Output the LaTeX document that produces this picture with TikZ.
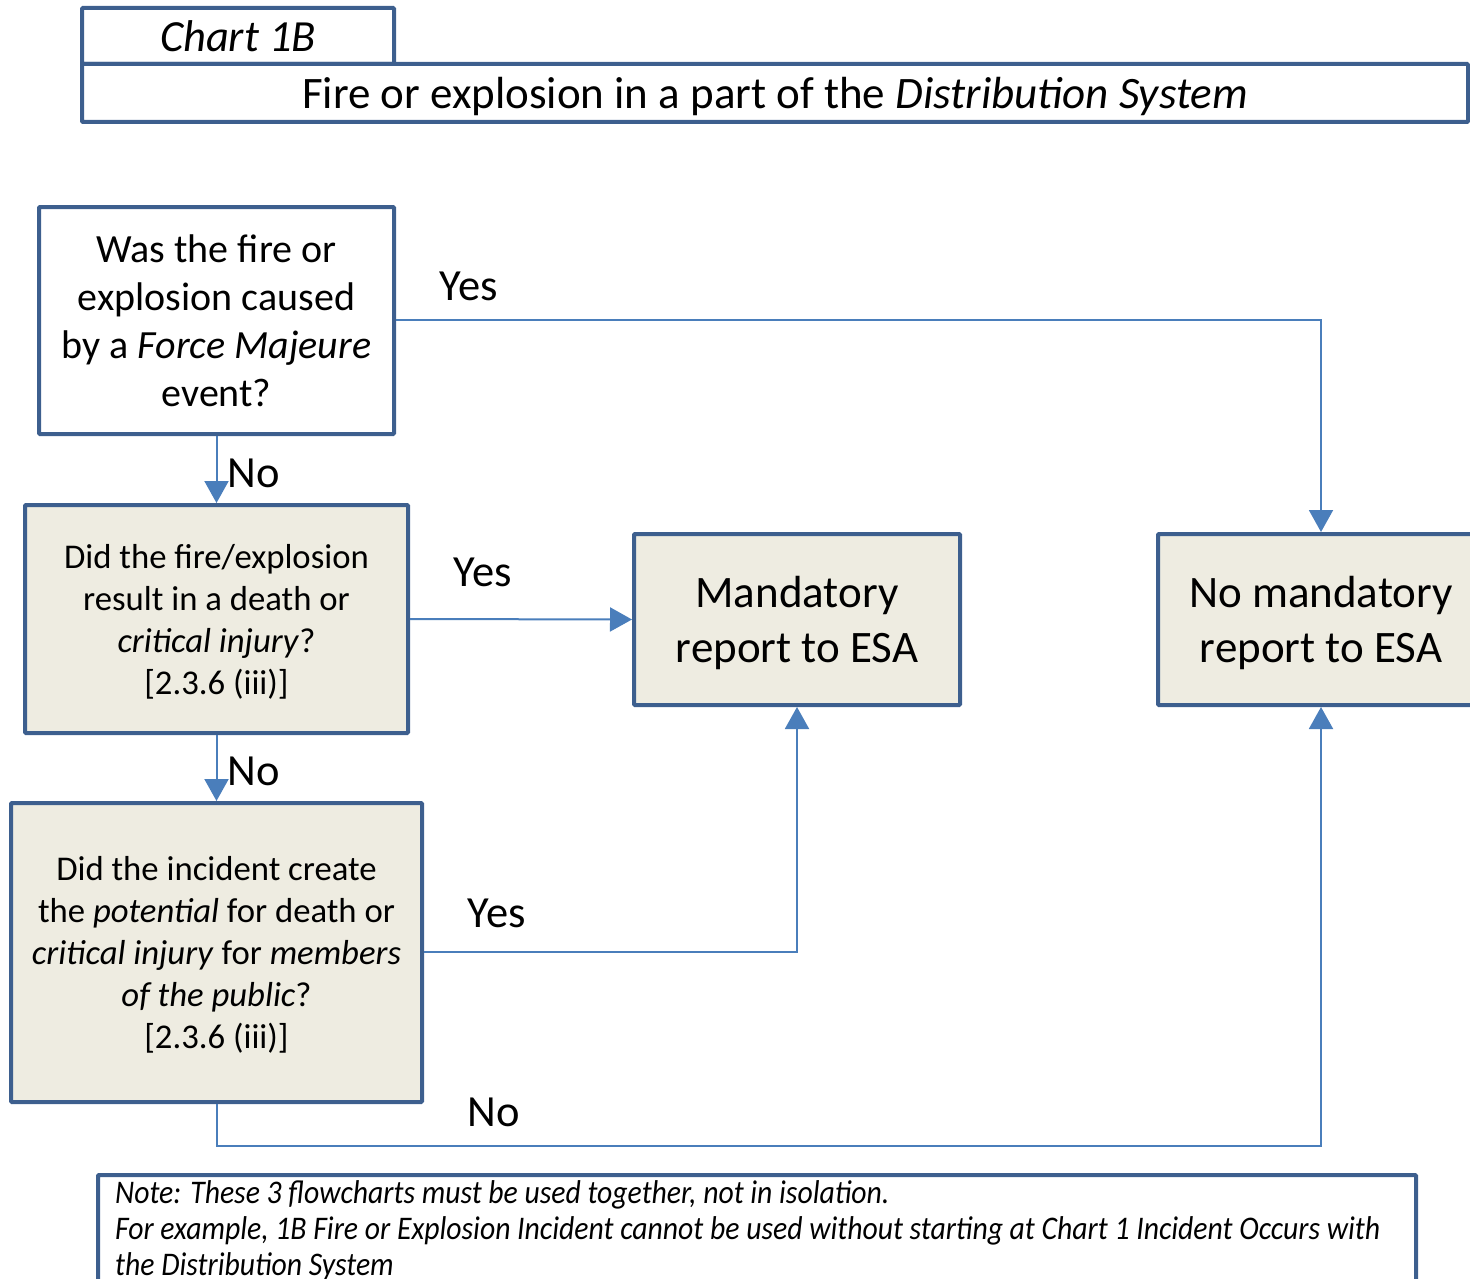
\documentclass[tikz,border=0pt]{standalone}
\usepackage{fontspec}
\setmainfont{Carlito}
\newfontfamily\notefont[FakeStretch=0.9]{Carlito}
\usetikzlibrary{arrows.meta}
\definecolor{bord}{HTML}{3D5F8E}
\definecolor{arr}{HTML}{4A7EBB}
\definecolor{boxfill}{HTML}{EEECE1}
\tikzset{
  hbox/.style={draw=bord, line width=4pt, rounded corners=1pt, inner sep=0pt},
  qbox/.style={hbox, align=center, font={\fontsize{34.7}{42}\selectfont}},
  rbox/.style={hbox, fill=boxfill, align=center, text depth=0pt, font={\fontsize{45}{55}\selectfont}},
  conn/.style={draw=arr, line width=2pt, -{Triangle[length=22pt,width=24pt]}},
  lab/.style={font={\fontsize{44.5}{50}\selectfont}, inner sep=0pt},
}
\begin{document}
\begin{tikzpicture}[x=1pt,y=-1pt]
\useasboundingbox (0,0) rectangle (1470,1279);
\clip (0,0) rectangle (1470,1279);
% header
\node[hbox, minimum width=312pt, minimum height=56pt, font={\fontsize{44.5}{50}\selectfont\itshape}] (chart) at (238,36) {Chart 1B};
\node[hbox, minimum width=1386pt, minimum height=58pt, text depth=0pt, font={\fontsize{45}{50}\selectfont}] (title) at (775,93) {Fire or explosion in a part of the \textit{Distribution System}};
% question boxes
\node[qbox, font={\fontsize{40}{48}\selectfont}, minimum width=355pt, minimum height=227pt] (q1) at (216.5,320.5) {Was the fire or\\explosion caused\\by a \textit{Force Majeure}\\event?};
\node[qbox, fill=boxfill, text depth=0pt, minimum width=383pt, minimum height=228pt] (q2) at (216.5,619) {Did the fire/explosion\\result in a death or\\\textit{critical injury}?\\{[2.3.6 (iii)]}};
\node[qbox, fill=boxfill, text depth=0pt, minimum width=411pt, minimum height=299pt] (q3) at (216.5,952.5) {Did the incident create\\the \textit{potential} for death or\\\textit{critical injury} for \textit{members}\\\textit{of the public}?\\{[2.3.6 (iii)]}};
% result boxes
\node[rbox, minimum width=326pt, minimum height=171pt] (mand) at (797,619.5) {Mandatory\\report to ESA};
\node[rbox, minimum width=326pt, minimum height=171pt] (nomand) at (1321,619.5) {No mandatory\\report to ESA};
% note
\node[hbox, anchor=north west, minimum width=1318pt, minimum height=140pt] (note) at (96,1173) {};
\node[anchor=north west, inner sep=0pt, align=left, font={\fontsize{33}{36}\selectfont\notefont\itshape}] (notetext) at (115,1180) {Note: These 3 flowcharts must be used together, not in isolation.\\For example, 1B Fire or Explosion Incident cannot be used without starting at Chart 1 Incident Occurs with\\the Distribution System};
% connectors
\coordinate (c1) at (1321,320);
\coordinate (c3) at (797,952);
\coordinate (c4a) at (216.5,1146);
\coordinate (c4b) at (1321,1146);
\draw[conn] (q1.east |- c1) -- (c1) -- (nomand.north);
\draw[conn] (q1.south) -- (q2.north);
\draw[conn] (q2.east) -- (mand.west);
\draw[conn] (q2.south) -- (q3.north);
\draw[conn] (q3.east |- c3) -- (c3) -- (mand.south);
\draw[conn] (q3.south) -- (c4a) -- (c4b) -- (nomand.south);
% labels
\node[lab] (l1) at (469,286) {Yes};
\node[lab] (l2) at (254,473) {No};
\node[lab] (l3) at (483,572) {Yes};
\node[lab] (l4) at (254,771) {No};
\node[lab] (l5) at (497,913) {Yes};
\node[lab] (l6) at (494,1112) {No};
\end{tikzpicture}
\end{document}
